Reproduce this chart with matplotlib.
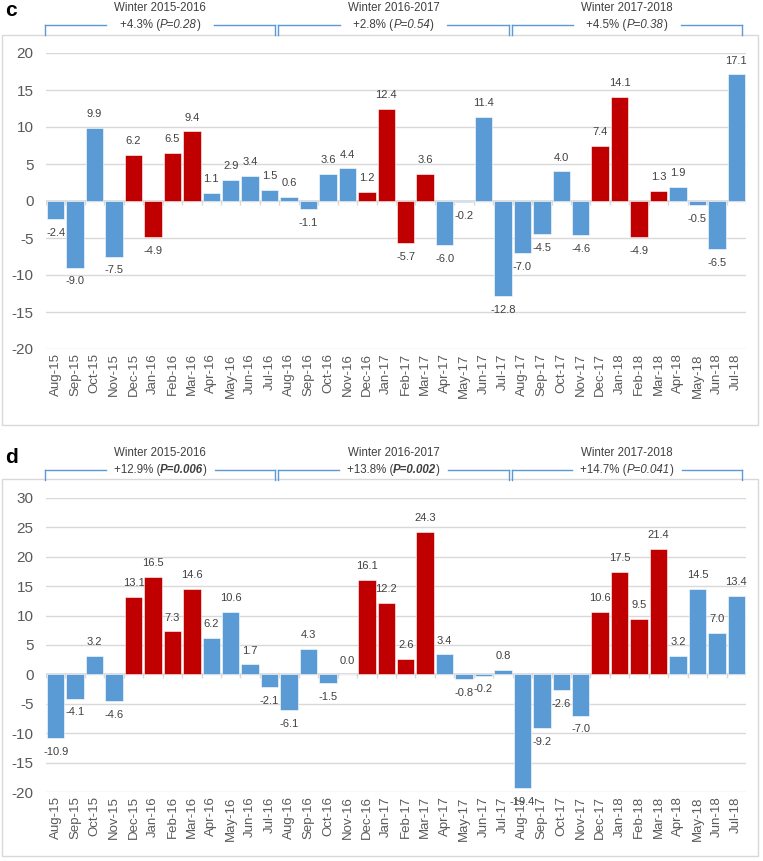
import numpy as np
import matplotlib.pyplot as plt
from matplotlib.patches import Rectangle
from matplotlib.lines import Line2D

plt.rcParams['font.family'] = ['Liberation Sans', 'DejaVu Sans']
plt.rcParams['axes.unicode_minus'] = False

# Monthly changes (%), Aug 2015 - Jul 2018
months = ["Aug-15", "Sep-15", "Oct-15", "Nov-15", "Dec-15", "Jan-16", "Feb-16", "Mar-16",
          "Apr-16", "May-16", "Jun-16", "Jul-16", "Aug-16", "Sep-16", "Oct-16", "Nov-16",
          "Dec-16", "Jan-17", "Feb-17", "Mar-17", "Apr-17", "May-17", "Jun-17", "Jul-17",
          "Aug-17", "Sep-17", "Oct-17", "Nov-17", "Dec-17", "Jan-18", "Feb-18", "Mar-18",
          "Apr-18", "May-18", "Jun-18", "Jul-18"]

values_c = [-2.4, -9.0, 9.9, -7.5, 6.2, -4.9, 6.5, 9.4, 1.1, 2.9, 3.4, 1.5,
            0.6, -1.1, 3.6, 4.4, 1.2, 12.4, -5.7, 3.6, -6.0, -0.2, 11.4, -12.8,
            -7.0, -4.5, 4.0, -4.6, 7.4, 14.1, -4.9, 1.3, 1.9, -0.5, -6.5, 17.1]

values_d = [-10.9, -4.1, 3.2, -4.6, 13.1, 16.5, 7.3, 14.6, 6.2, 10.6, 1.7, -2.1,
            -6.1, 4.3, -1.5, 0.0, 16.1, 12.2, 2.6, 24.3, 3.4, -0.8, -0.2, 0.8,
            -19.4, -9.2, -2.6, -7.0, 10.6, 17.5, 9.5, 21.4, 3.2, 14.5, 7.0, 13.4]

winter_months = ("Dec", "Jan", "Feb", "Mar")

# Winter groups (first and last month index) and their statistics
winters = ["Winter 2015-2016", "Winter 2016-2017", "Winter 2017-2018"]
group_start = [0, 12, 24]
group_end = [11, 23, 35]

change_c = ["+4.3%", "+2.8%", "+4.5%"]
p_c = ["0.28", "0.54", "0.38"]
bold_c = [False, False, False]

change_d = ["+12.9%", "+13.8%", "+14.7%"]
p_d = ["0.006", "0.002", "0.041"]
bold_d = [True, True, False]

W, H = 763, 861
fig = plt.figure(figsize=(W / 100, H / 100), dpi=100)
renderer = fig.canvas.get_renderer()

BLUE = '#5b9bd5'
RED = '#c00000'
GRID = '#d9d9d9'
TXT = '#404040'


def fx(px):
    return px / W


def fy(px):
    return 1 - px / H


def rich_line(xc, y, pieces, size=8.3):
    """Draws several text pieces side by side, centred on xc (pixels)."""
    texts = []
    for s, style, weight in pieces:
        t = fig.text(0, fy(y), s, fontsize=size, style=style, weight=weight,
                     color=TXT, va='center', ha='left')
        texts.append(t)
    widths = [t.get_window_extent(renderer).width for t in texts]
    x0 = xc - sum(widths) / 2
    for t, w in zip(texts, widths):
        t.set_x(fx(x0))
        x0 += w
    return sum(widths)


def draw_panel(letter, letter_y, box_top, box_bottom, top, bottom, values, ylim, yticks,
               bracket_y, changes, pvals, bolds):
    # chart frame
    fig.patches.append(Rectangle((fx(2), fy(box_bottom)), fx(756), (box_bottom - box_top) / H,
                                 transform=fig.transFigure, fill=False, edgecolor=GRID, lw=1))
    fig.text(fx(5), fy(letter_y), letter, fontsize=15, weight='bold', va='center', ha='left')

    ax = fig.add_axes([fx(46), fy(bottom), fx(700), (bottom - top) / H])
    x = np.arange(len(months))
    colors = [RED if m[:3] in winter_months else BLUE for m in months]
    ax.bar(x, values, width=0.9, color=colors, edgecolor='white', linewidth=0.4, zorder=3)
    for xi, v in zip(x, values):
        ax.annotate(f"{v:.1f}", (xi, v), xytext=(0, 10 if v >= 0 else -10),
                    textcoords='offset points', ha='center', va='center',
                    fontsize=8, color=TXT, zorder=4)

    ax.set_xlim(-0.5, len(months) - 0.5)
    ax.set_ylim(*ylim)
    ax.set_yticks(yticks)
    ax.grid(axis='y', color=GRID, lw=1, zorder=0)
    ax.axhline(0, color=GRID, lw=1.2, zorder=2)
    px_per_unit = (bottom - top) / (ylim[1] - ylim[0])
    ax.vlines(np.arange(len(months) + 1) - 0.5, -4 / px_per_unit, 0, color=GRID, lw=1, zorder=2)
    for s in ax.spines.values():
        s.set_visible(False)
    ax.set_xticks(x)
    ax.set_xticklabels(months, rotation=90)
    ax.tick_params(axis='x', length=0, pad=3, labelsize=9.5, labelcolor='#595959')
    ax.tick_params(axis='y', length=0, pad=9, labelsize=11, labelcolor='#595959')

    # brackets with winter summaries
    for i in range(len(winters)):
        xl = ax.transData.transform((group_start[i] - 0.55, 0))[0]
        xr = ax.transData.transform((group_end[i] + 0.3, 0))[0]
        xc = (xl + xr) / 2
        w1 = rich_line(xc, bracket_y - 17, [(winters[i], 'normal', 'normal')])
        w2 = rich_line(xc, bracket_y, [(changes[i] + " (", 'normal', 'normal'),
                                       ("P=" + pvals[i], 'italic', 'bold' if bolds[i] else 'normal'),
                                       (")", 'normal', 'normal')])
        half = max(w1, w2) / 2 + 8
        for xa, xb in [(xl, xc - half), (xc + half, xr)]:
            fig.add_artist(Line2D([fx(xa), fx(xb)], [fy(bracket_y), fy(bracket_y)],
                                  transform=fig.transFigure, color=BLUE, lw=1))
        for xv in (xl, xr):
            fig.add_artist(Line2D([fx(xv), fx(xv)], [fy(bracket_y), fy(bracket_y + 10)],
                                  transform=fig.transFigure, color=BLUE, lw=1))


draw_panel("c", 11, 35, 425, 53, 349, values_c, (-20, 20), np.arange(-20, 21, 5),
           25, change_c, p_c, bold_c)
draw_panel("d", 458, 479, 856, 498, 792, values_d, (-20, 30), np.arange(-20, 31, 5),
           470, change_d, p_d, bold_d)

plt.savefig("out.png", dpi=100)
